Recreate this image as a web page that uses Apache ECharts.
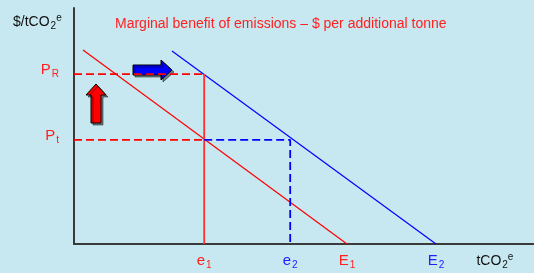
<!DOCTYPE html>
<html><head><meta charset="utf-8">
<script src="https://cdn.jsdelivr.net/npm/echarts@6/dist/echarts.min.js"></script>
<style>html,body{margin:0;padding:0;background:#c7e8f0;}#c{width:534px;height:273px;}</style>
</head><body><div id="c"></div>
<script>
// ---- data (arbitrary units: quantity 0..100, price 0..100) ----
const redCurve = [[1.96, 82.2], [59.35, 0]];   // E1 demand
const blueCurve = [[21.3, 81.8], [78.7, 0]];   // E2 demand
const priceValues = [72.0, 44.1];             // P_R, P_t
const priceNames = ['R', 't'];
const qtyValues = [28.3, 47.0, 59.35, 78.7, 91.5];
const qtyLabels = ['e1', 'e2', 'E1', 'E2', 'tCO2e'];
const e1 = qtyValues[0], e2 = qtyValues[1];
const PR = priceValues[0], Pt = priceValues[1];

const FONT = 'Liberation Sans, Arial, sans-serif';
const chart = echarts.init(document.getElementById('c'), null, {renderer: 'canvas'});

const sub = (c) => ({color: c, fontSize: 10, fontWeight: 'normal', fontFamily: FONT, padding: [8, 0, 0, 1]});
const base = (c, s) => ({color: c, fontSize: s || 15, fontWeight: 'normal', fontFamily: FONT});

const rich = {
  r: base('#ff2020'), rs: sub('#ff2020'),
  b: base('#2020ff'), bs: sub('#2020ff'),
  k: base('#111', 14), ks: sub('#111'),
  ksup: {color: '#111', fontSize: 10, fontWeight: 'normal', fontFamily: FONT, padding: [0, 0, 7, 0]}
};

function dashed(c, w) { return {color: c, width: w, type: [8, 4]}; }

chart.setOption({
  backgroundColor: '#c7e8f0',
  animation: false,
  title: [{
    text: 'Marginal benefit of emissions – $ per additional tonne',
    left: 110, top: 12,
    textStyle: {color: '#ff2020', fontSize: 14, fontWeight: 'normal', fontStyle: 'normal', fontFamily: FONT}
  }, {
    text: '{k|$/tCO}{ks|2}{ksup|e}',
    left: 8, top: 8,
    textStyle: {rich: rich, fontWeight: 'normal'}
  }],
  grid: {left: 74, right: 0, top: 8, bottom: 29},
  xAxis: {
    type: 'value', min: 0, max: 100,
    splitLine: {show: false}, axisTick: {show: false},
    axisLine: {show: true, lineStyle: {color: '#3a3a3a', width: 2}},
    axisLabel: {
      show: true, margin: 8,
      customValues: qtyValues,
      formatter: function (v) {
        const i = qtyValues.indexOf(v);
        if (i === 0) return '{r|e}{rs|1}';
        if (i === 1) return '{b|e}{bs|2}';
        if (i === 2) return '{r|E}{rs|1}';
        if (i === 3) return '{b|E}{bs|2}';
        return '{k|tCO}{ks|2}{ksup|e}';
      },
      rich: rich
    }
  },
  yAxis: {
    type: 'value', min: 0, max: 100,
    splitLine: {show: false}, axisTick: {show: false},
    axisLine: {show: true, lineStyle: {color: '#3a3a3a', width: 2}},
    axisLabel: {
      show: true, margin: 15, padding: [0, 0, 8, 0],
      customValues: priceValues,
      formatter: function (v) {
        const i = priceValues.indexOf(v);
        return '{r|P}{rs|' + priceNames[i] + '}';
      },
      rich: rich
    }
  },
  series: [
    {type: 'line', data: redCurve, symbol: 'none', lineStyle: {color: '#ff0000', width: 1.2}, z: 3},
    {type: 'line', data: blueCurve, symbol: 'none', lineStyle: {color: '#0000ff', width: 1.2}, z: 3},
    {type: 'line', data: [[0, PR], [e1, PR]], symbol: 'none', lineStyle: dashed('#ff0000', 1.8), z: 4},
    {type: 'line', data: [[e1, PR], [e1, 0]], symbol: 'none', lineStyle: {color: '#ff3030', width: 1.8}, z: 4},
    {type: 'line', data: [[0, Pt], [e1, Pt]], symbol: 'none', lineStyle: dashed('#ff0000', 1.8), z: 4},
    {type: 'line', data: [[e1, Pt], [e2, Pt], [e2, 0]], symbol: 'none', lineStyle: dashed('#0000ff', 1.8), z: 4}
  ],
  graphic: [
    {type: 'polygon', z: 2,
     shape: {points: [[133, 65], [161, 65], [161, 60], [172, 70], [161, 80], [161, 75], [133, 75]]},
     style: {fill: '#0000ff', stroke: '#000', lineWidth: 1, shadowColor: 'rgba(0,0,0,0.45)', shadowOffsetX: 2, shadowOffsetY: 2}},
    {type: 'polygon', z: 2,
     shape: {points: [[96, 84], [106, 95], [101, 95], [101, 123], [91, 123], [91, 95], [86, 95]]},
     style: {fill: '#ff0000', stroke: '#000', lineWidth: 1, shadowColor: 'rgba(0,0,0,0.45)', shadowOffsetX: 2, shadowOffsetY: 2}}
  ]
});
</script></body></html>
